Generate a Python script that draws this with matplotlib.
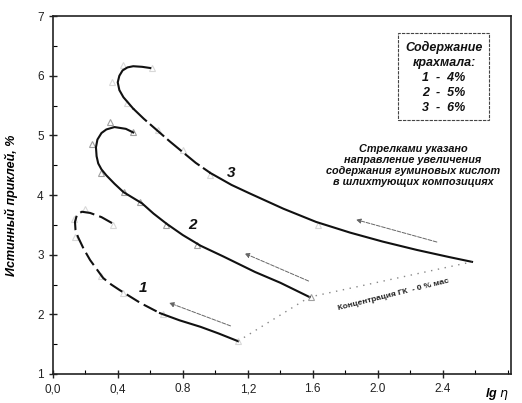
import matplotlib
matplotlib.use('Agg')
import matplotlib.pyplot as plt
from matplotlib.patches import Rectangle
from matplotlib.ticker import MultipleLocator

plt.rcParams['font.family'] = ['Liberation Sans', 'DejaVu Sans']

# кривые (сглаженные)
c1_x = [0.365, 0.30, 0.23, 0.18, 0.15, 0.137, 0.14, 0.155, 0.19, 0.23, 0.27, 0.31, 0.36, 0.41, 0.54, 0.66, 0.78, 0.91, 1.02, 1.14]
c1_y = [3.53, 3.63, 3.70, 3.72, 3.68, 3.55, 3.42, 3.30, 3.10, 2.91, 2.76, 2.61, 2.50, 2.41, 2.19, 2.02, 1.90, 1.79, 1.68, 1.55]

c2_x = [0.495, 0.45, 0.38, 0.33, 0.30, 0.275, 0.266, 0.27, 0.28, 0.30, 0.33, 0.38, 0.435, 0.55, 0.62, 0.70, 0.80, 0.91, 1.05, 1.245, 1.40, 1.58]
c2_y = [5.05, 5.11, 5.14, 5.10, 5.04, 4.93, 4.80, 4.65, 4.53, 4.43, 4.33, 4.19, 4.05, 3.86, 3.69, 3.52, 3.33, 3.15, 2.97, 2.71, 2.53, 2.29]

c3_x = [0.60, 0.55, 0.495, 0.46, 0.43, 0.41, 0.40, 0.41, 0.435, 0.495, 0.56, 0.64, 0.72, 0.80, 0.88, 0.97, 1.10, 1.21, 1.42, 1.62, 1.83, 2.03, 2.24, 2.44, 2.58]
c3_y = [6.13, 6.15, 6.16, 6.14, 6.09, 6.00, 5.89, 5.76, 5.64, 5.45, 5.28, 5.09, 4.90, 4.72, 4.54, 4.37, 4.17, 4.03, 3.77, 3.55, 3.37, 3.22, 3.08, 2.96, 2.88]

# экспериментальные точки (треугольники)
p1_x = [0.37, 0.20, 0.13, 0.14, 0.30, 0.43, 0.68, 1.14]
p1_y = [3.50, 3.76, 3.60, 3.30, 2.65, 2.35, 2.00, 1.56]
p2_x = [0.35, 0.495, 0.24, 0.30, 0.44, 0.54, 0.70, 0.89, 1.59]
p2_y = [5.22, 5.06, 4.85, 4.37, 4.05, 3.88, 3.50, 3.16, 2.29]
p3_x = [0.61, 0.43, 0.365, 0.46, 0.65, 0.80, 0.97, 1.63]
p3_y = [6.13, 6.18, 5.90, 5.54, 5.09, 4.75, 4.33, 3.50]

# линия "Концентрация ГК - 0 % мас"
zero_x = [1.14, 1.58, 2.58]
zero_y = [1.55, 2.29, 2.88]

# стрелки: (хвост, голова)
arrows = [((1.11, 1.79), (0.70, 2.21)),
          ((1.59, 2.54), (1.165, 3.04)),
          ((2.38, 3.20), (1.85, 3.60))]

x_ticks = [0.0, 0.4, 0.8, 1.2, 1.6, 2.0, 2.4]
x_tick_labels = ['0,0', '0,4', '0.8', '1,2', '1.6', '2.0', '2.4']
y_ticks = [1, 2, 3, 4, 5, 6, 7]

fig = plt.figure(figsize=(5.22, 4.03), dpi=100)
ax = fig.add_axes([0.101, 0.072, 0.878, 0.888])

tri = dict(marker='^', linestyle='none', markersize=5, markerfacecolor='none', markeredgewidth=0.8)
ax.plot(p1_x, p1_y, markeredgecolor='#d8d8d8', **tri)
ax.plot(p2_x, p2_y, markeredgecolor='#a0a0a0', **tri)
ax.plot(p3_x, p3_y, markeredgecolor='#d8d8d8', **tri)

ax.plot(c1_x[:16], c1_y[:16], color='#111111', lw=1.5, linestyle=(0, (7, 2.5)))
ax.plot(c1_x[15:], c1_y[15:], color='#111111', lw=1.5)
ax.plot(c2_x, c2_y, color='#111111', lw=1.5)
ax.plot(c3_x[:10], c3_y[:10], color='#111111', lw=1.5)
ax.plot(c3_x[9:16], c3_y[9:16], color='#111111', lw=1.5, linestyle=(0, (9, 2)))
ax.plot(c3_x[15:], c3_y[15:], color='#111111', lw=1.5)

ax.plot(zero_x, zero_y, color='#888888', lw=1.0, linestyle=(0, (1, 4)))

for (tx, ty), (hx, hy) in arrows:
    ax.annotate('', xy=(hx, hy), xytext=(tx, ty),
                arrowprops=dict(arrowstyle='-|>', color='#666666', lw=0.7,
                                linestyle=(0, (4, 1.5)), mutation_scale=7))

lab = dict(fontsize=11, fontweight='bold', fontstyle='italic', color='#111111')
ax.text(0.555, 2.44, '1', ha='center', va='center', **lab)
ax.text(0.86, 3.50, '2', ha='center', va='center', **lab)
ax.text(1.10, 4.37, '3', ha='center', va='center', **lab)

ax.text(2.10, 2.33, 'Концентрация ГК  - 0 % мас', rotation=14, ha='center', va='center',
        fontsize=6, fontweight='bold', color='#222222')

# легенда
ax.add_patch(Rectangle((0.753, 0.709), 0.199, 0.244, transform=ax.transAxes, fill=False,
                       edgecolor='#444444', lw=0.8, linestyle=(0, (3, 1))))
leg = dict(transform=ax.transAxes, ha='center', va='center', fontsize=9,
           fontweight='bold', fontstyle='italic', color='#111111')
ax.text(0.854, 0.911, 'Содержание', **leg)
ax.text(0.854, 0.869, 'крахмала:', **leg)
ax.text(0.854, 0.827, '1  -  4%', **leg)
ax.text(0.854, 0.785, '2  -  5%', **leg)
ax.text(0.854, 0.743, '3  -  6%', **leg)

ax.text(0.786, 0.583, 'Стрелками указано\nнаправление увеличения\nсодержания гуминовых кислот\nв шлихтующих композициях',
        transform=ax.transAxes, ha='center', va='center', fontsize=7.8, fontweight='bold',
        fontstyle='italic', linespacing=1.1, color='#111111')

ax.set_xlim(0, 2.82)
ax.set_ylim(1, 7)
ax.set_xticks(x_ticks)
ax.set_xticklabels(x_tick_labels)
ax.set_yticks(y_ticks)
ax.xaxis.set_minor_locator(MultipleLocator(0.2))
ax.yaxis.set_minor_locator(MultipleLocator(0.5))
ax.tick_params(which='major', direction='inout', length=6, width=1, labelsize=8.5, colors='#222222')
ax.tick_params(which='minor', direction='in', length=3, width=0.8)
for s in ax.spines.values():
    s.set_linewidth(1.2)
    s.set_color('#222222')

ax.set_ylabel('Истинный приклей, %', fontsize=9, fontweight='bold', fontstyle='italic')
ax.yaxis.set_label_coords(-0.075, 0.47)
ax.text(0.97, -0.057, r'lg $\eta$', transform=ax.transAxes, ha='center', va='center',
        fontsize=9, fontweight='bold', fontstyle='italic')

fig.savefig('out.png', dpi=100)
